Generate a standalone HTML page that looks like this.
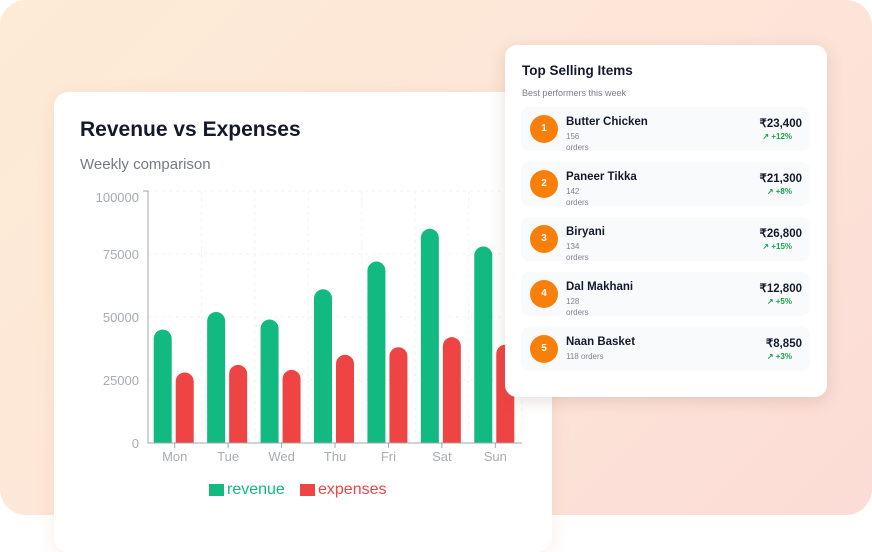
<!DOCTYPE html>
<html><head><meta charset="utf-8"><style>
*{margin:0;padding:0;box-sizing:border-box}
body{width:872px;height:515px;background:#fff;font-family:"Liberation Sans",sans-serif;overflow:hidden;position:relative}
#bg{position:absolute;left:0;top:0;width:872px;height:515px;border-radius:26px;background:linear-gradient(135deg,#fdebd6 0%,#fde6d8 50%,#fcdcd6 100%);overflow:hidden}
#chart-card{position:absolute;left:54px;top:92px;width:498px;height:460px;background:#fff;border-radius:14px;box-shadow:0 4px 18px rgba(200,140,100,.15)}
#title{position:absolute;left:80px;top:118px;font-size:21px;font-weight:bold;color:#141a2b}
#sub{position:absolute;left:80px;top:156px;font-size:15px;color:#737a86}
#svg{position:absolute;left:0;top:0}
#top-card{position:absolute;left:505px;top:45px;width:322px;height:352px;background:#fff;border-radius:12px;box-shadow:0 4px 16px rgba(120,80,60,.18)}
.h{position:absolute;left:17px;top:18px;font-size:13.5px;font-weight:bold;color:#141a2b}
.s{position:absolute;left:17px;top:43px;font-size:9px;color:#7a808a}
.row{position:absolute;left:16px;width:289px;height:44px;background:#f8fafc;border-radius:8px}
.num{position:absolute;left:9px;top:8px;width:28px;height:28px;border-radius:50%;background:#f97f0b;color:#fff;font-size:10px;font-weight:bold;text-align:center;line-height:28px}
.nm{position:absolute;left:45px;top:9px;font-size:11.5px;font-weight:bold;color:#141a2b}
.or{position:absolute;left:45px;top:24px;font-size:8px;color:#80858f;line-height:11px;width:30px}
.pr{position:absolute;right:8px;top:9px;font-size:11.5px;font-weight:bold;color:#141a2b}
.pc{position:absolute;right:18px;top:25px;font-size:8px;font-weight:bold;color:#16a34a}
</style></head><body>
<div id="bg"></div>
<div id="chart-card"></div>
<div id="title">Revenue vs Expenses</div>
<div id="sub">Weekly comparison</div>
<svg id="svg" width="872" height="515"></svg>
<div id="top-card">
<div class="h">Top Selling Items</div>
<div class="s">Best performers this week</div>
<div class="row" style="top:62px"><div class="num">1</div><div class="nm">Butter Chicken</div><div class="or">156 orders</div><div class="pr">₹23,400</div><div class="pc">↗ +12%</div></div>
<div class="row" style="top:117px"><div class="num">2</div><div class="nm">Paneer Tikka</div><div class="or">142 orders</div><div class="pr">₹21,300</div><div class="pc">↗ +8%</div></div>
<div class="row" style="top:172px"><div class="num">3</div><div class="nm">Biryani</div><div class="or">134 orders</div><div class="pr">₹26,800</div><div class="pc">↗ +15%</div></div>
<div class="row" style="top:227px"><div class="num">4</div><div class="nm">Dal Makhani</div><div class="or">128 orders</div><div class="pr">₹12,800</div><div class="pc">↗ +5%</div></div>
<div class="row" style="top:282px"><div class="num">5</div><div class="nm">Naan Basket</div><div class="or" style="width:80px">118 orders</div><div class="pr">₹8,850</div><div class="pc">↗ +3%</div></div>
</div>
<script>
const categories=["Mon","Tue","Wed","Thu","Fri","Sat","Sun"];
const revenue=[45000,52000,49000,61000,72000,85000,78000];
const expenses=[28000,31000,29000,35000,38000,42000,39000];
const yTicks=[0,25000,50000,75000,100000];
const NS="http://www.w3.org/2000/svg";
const svg=document.getElementById('svg');
const X0=148,X1=522,Y0=443,YT=191,band=(X1-X0)/categories.length;
function y(v){return Y0-(v/100000)*(Y0-YT);}
function xc(i){return X0+band*(i+0.5);}
function mk(t,a){const e=document.createElementNS(NS,t);for(const k in a)e.setAttribute(k,a[k]);svg.appendChild(e);return e;}
yTicks.forEach(t=>{
 if(t>0){const g=mk('line',{x1:X0,x2:X1,y1:y(t),y2:y(t),stroke:'#f1f1f1','stroke-dasharray':'3 4'});
 
 }
 const ly=t===100000?y(t)+11:y(t)+5;
 const l=mk('text',{x:X0-9,y:ly,'text-anchor':'end','font-size':13,fill:'#a7abb3','font-family':'Liberation Sans'});
 l.textContent=t;
 
 
});
categories.forEach((c,i)=>{
 const g=mk('line',{x1:X0+band*(i+1),x2:X0+band*(i+1),y1:YT,y2:Y0,stroke:'#f1f1f1','stroke-dasharray':'3 4'});
 
 
});
function bar(x,v,col,name){
 const w=18,top=y(v),r=9;
 const p=mk('path',{d:`M${x},${Y0}V${top+r}A${r},${r} 0 0 1 ${x+w},${top+r}V${Y0}Z`,fill:col});
 
 
}
categories.forEach((c,i)=>{
 bar(xc(i)-21,revenue[i],'#12b981','bar-revenue-'+c.toLowerCase());
 bar(xc(i)+1,expenses[i],'#ef4444','bar-expenses-'+c.toLowerCase());
 const t=mk('line',{x1:xc(i),x2:xc(i),y1:Y0,y2:Y0+5,stroke:'#a0a4ab'});
 
 
 const l=mk('text',{x:xc(i),y:Y0+18,'text-anchor':'middle','font-size':13,fill:'#a7abb3','font-family':'Liberation Sans'});
 l.textContent=c;
 
 
});
const ax=mk('path',{d:`M${X0-5},${YT}H${X0}V${Y0}H${X1}`,stroke:'#a0a4ab',fill:'none'});


const lg=[['revenue','#12b981',209],['expenses','#ef4444',300]];
lg.forEach(([n,c,x])=>{
 const r=mk('rect',{x:x,y:484,width:15,height:12,fill:c});
 
 
 const t=mk('text',{x:x+18,y:494,'font-size':16,fill:c,'font-family':'Liberation Sans'});
 t.textContent=n;
 
 
});
</script>
</body></html>
